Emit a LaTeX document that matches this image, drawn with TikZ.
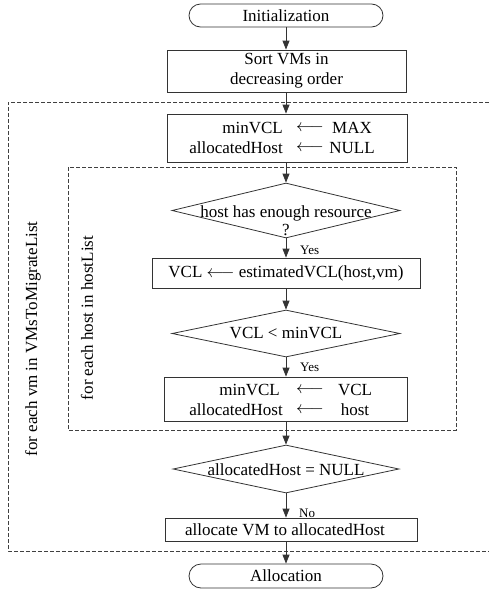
\documentclass[tikz,border=0pt]{standalone}
\usepackage{fontspec}
\setmainfont{Liberation Serif}
\usetikzlibrary{arrows.meta,shapes.geometric,shapes.misc}
\begin{document}
\begin{tikzpicture}[x=1pt,y=-1pt,
  line/.style={draw=black!80,line width=0.8pt},
  box/.style={line,rectangle,inner sep=0pt,font=\fontsize{17}{20}\selectfont,align=center},
  term/.style={line,rounded rectangle,inner sep=0pt,font=\fontsize{17}{20}\selectfont},
  dia/.style={line,diamond,inner sep=0pt},
  txt/.style={inner sep=0pt,font=\fontsize{17}{20}\selectfont},
  small/.style={inner sep=0pt,font=\fontsize{13}{15}\selectfont},
  flow/.style={line,-{Triangle[length=9pt,width=7pt]}},
  loopline/.style={draw=black!75,line width=0.7pt,dash pattern=on 4pt off 2pt}]
\useasboundingbox (0,0) rectangle (489,592);

% loop frames
\draw[loopline] (489,102) -- (8,102) -- (8,551) -- (489,551);
\draw[loopline] (68,167) rectangle (456,430);
\node[txt,rotate=90] (lv) at (33,339) {for each vm in VMsToMigrateList};
\node[txt,rotate=90] (lh) at (87,318) {for each host in hostList};

% nodes
\node[term,minimum width=194pt,minimum height=23pt] (init) at (286,15.5) {Initialization};
\node[box,minimum width=239pt,minimum height=42pt] (sort) at (286.5,71) {Sort VMs in\\decreasing order};

\node[box,minimum width=240pt,minimum height=48pt] (b1) at (287,138) {};
\node[txt,anchor=east] (b1a) at (283,128) {minVCL};
\node[txt] (b1b) at (310,128) {$\longleftarrow$};
\node[txt] (b1c) at (352,128) {MAX};
\node[txt,anchor=east] (b1d) at (283,148) {allocatedHost};
\node[txt] (b1e) at (310,148) {$\longleftarrow$};
\node[txt] (b1f) at (352,148) {NULL};

\node[dia,minimum width=228pt,minimum height=55pt] (d1) at (286,210.5) {};
\node[txt,align=center,font=\fontsize{17}{18}\selectfont] (d1t) at (286,221) {host has enough resource\\?};

\node[box,minimum width=268pt,minimum height=30pt] (vcl) at (286,273) {VCL\ $\longleftarrow$\ estimatedVCL(host,vm)};

\node[dia,minimum width=228pt,minimum height=47pt] (d2) at (286,333.5) {};
\node[txt] (d2t) at (286,333) {VCL < minVCL};

\node[box,minimum width=243pt,minimum height=44pt] (b4) at (285.5,399) {};
\node[txt,anchor=east] (b4a) at (280,390) {minVCL};
\node[txt] (b4b) at (310,390) {$\longleftarrow$};
\node[txt] (b4c) at (355,390) {VCL};
\node[txt,anchor=east] (b4d) at (283,410) {allocatedHost};
\node[txt] (b4e) at (310,410) {$\longleftarrow$};
\node[txt] (b4f) at (355,410) {host};

\node[dia,minimum width=226pt,minimum height=48pt] (d3) at (286,469) {};
\node[txt] (d3t) at (286,470) {allocatedHost = NULL};

\node[box,minimum width=252pt,minimum height=23pt] (alloc) at (291,529.5) {};
\node[txt] (alloct) at (285,530) {allocate VM to allocatedHost};

\node[term,minimum width=194pt,minimum height=24pt] (fin) at (286,576) {Allocation};

\node[small,anchor=west] (y1) at (300,250) {Yes};
\node[small,anchor=west] (y2) at (300,367) {Yes};
\node[small,anchor=west] (n1) at (299,513) {No};

% connectors
\draw[flow] (init.south) -- (init.south |- sort.north);
\draw[flow] (sort.south -| d1.north) -- (d1.north |- b1.north);
\draw[flow] (b1.south -| d1.north) -- (d1.north);
\draw[flow] (d1.south) -- (d1.south |- vcl.north);
\draw[flow] (vcl.south -| d2.north) -- (d2.north);
\draw[flow] (d2.south) -- (d2.south |- b4.north);
\draw[flow] (b4.south -| d3.north) -- (d3.north);
\draw[flow] (d3.south) -- (d3.south |- alloc.north);
\draw[flow] (alloc.south -| fin.north) -- (fin.north);
\end{tikzpicture}
\end{document}
